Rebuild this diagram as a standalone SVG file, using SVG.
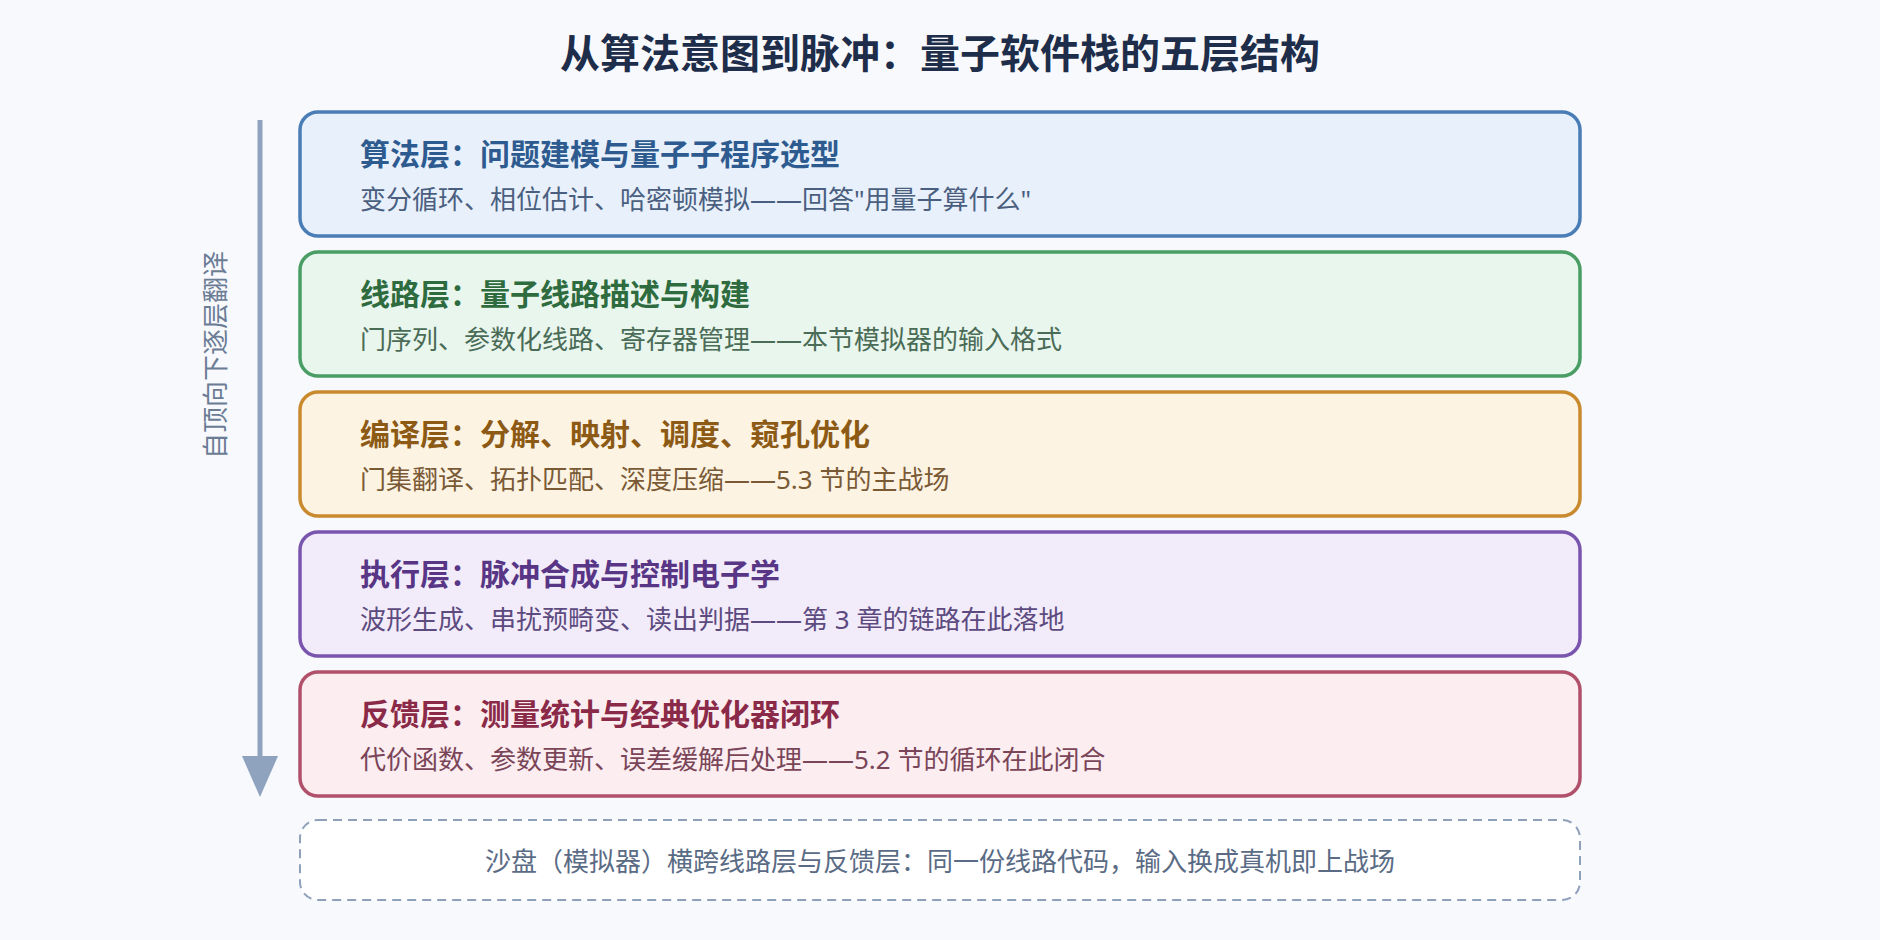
<svg xmlns="http://www.w3.org/2000/svg" width="1880" height="940" viewBox="0 0 1880 940">
<style>
text{font-family:"Noto Sans","Noto Sans CJK SC",sans-serif}
.title{font-size:40px;font-weight:700;fill:#1e2d4a}
.box{stroke-width:3.5}
.h{font-size:30px;font-weight:700}
.s{font-size:26px}
.side{font-size:26px;fill:#6b7c95}
.note{font-size:26px;fill:#5a6b85}
</style>
<rect x="0" y="0" width="1880" height="940" fill="#f7f9fc"/>
<text class="title" x="940" y="68" text-anchor="middle">从算法意图到脉冲：量子软件栈的五层结构</text>
<g id="connectors">
<line x1="260" y1="120" x2="260" y2="756" stroke="#8fa3bf" stroke-width="5"/>
<path d="M242,756 L278,756 L260,797 Z" fill="#8fa3bf"/>
</g>
<text class="side" transform="translate(225,355) rotate(-90)" text-anchor="middle">自顶向下逐层翻译</text>
<g id="layer-algorithm">
<rect class="box" x="300" y="112" width="1280" height="124" rx="18" fill="#e8f0fb" stroke="#4a7db5"/>
<text class="h" x="360" y="165" fill="#2e5b8f">算法层：问题建模与量子子程序选型</text>
<text class="s" x="360" y="209" fill="#4a5f80">变分循环、相位估计、哈密顿模拟——回答"用量子算什么"</text>
</g>
<g id="layer-circuit">
<rect class="box" x="300" y="252" width="1280" height="124" rx="18" fill="#e8f6ed" stroke="#4a9d64"/>
<text class="h" x="360" y="305" fill="#2e6b3e">线路层：量子线路描述与构建</text>
<text class="s" x="360" y="349" fill="#4a6b56">门序列、参数化线路、寄存器管理——本节模拟器的输入格式</text>
</g>
<g id="layer-compile">
<rect class="box" x="300" y="392" width="1280" height="124" rx="18" fill="#fdf3e3" stroke="#c98a2e"/>
<text class="h" x="360" y="445" fill="#8c5a14">编译层：分解、映射、调度、窥孔优化</text>
<text class="s" x="360" y="489" fill="#7a5a35">门集翻译、拓扑匹配、深度压缩——5.3 节的主战场</text>
</g>
<g id="layer-execute">
<rect class="box" x="300" y="532" width="1280" height="124" rx="18" fill="#f2ecfa" stroke="#7a55ad"/>
<text class="h" x="360" y="585" fill="#583585">执行层：脉冲合成与控制电子学</text>
<text class="s" x="360" y="629" fill="#5d4a7f">波形生成、串扰预畸变、读出判据——第 3 章的链路在此落地</text>
</g>
<g id="layer-feedback">
<rect class="box" x="300" y="672" width="1280" height="124" rx="18" fill="#fbedf0" stroke="#b0506a"/>
<text class="h" x="360" y="725" fill="#8a2a48">反馈层：测量统计与经典优化器闭环</text>
<text class="s" x="360" y="769" fill="#7a4558">代价函数、参数更新、误差缓解后处理——5.2 节的循环在此闭合</text>
</g>
<g id="sandbox-note">
<rect x="300" y="820" width="1280" height="80" rx="18" fill="#ffffff" stroke="#8fa0bb" stroke-width="2" stroke-dasharray="9 6"/>
<text class="note" x="940" y="871" text-anchor="middle">沙盘（模拟器）横跨线路层与反馈层：同一份线路代码，输入换成真机即上战场</text>
</g>
</svg>
